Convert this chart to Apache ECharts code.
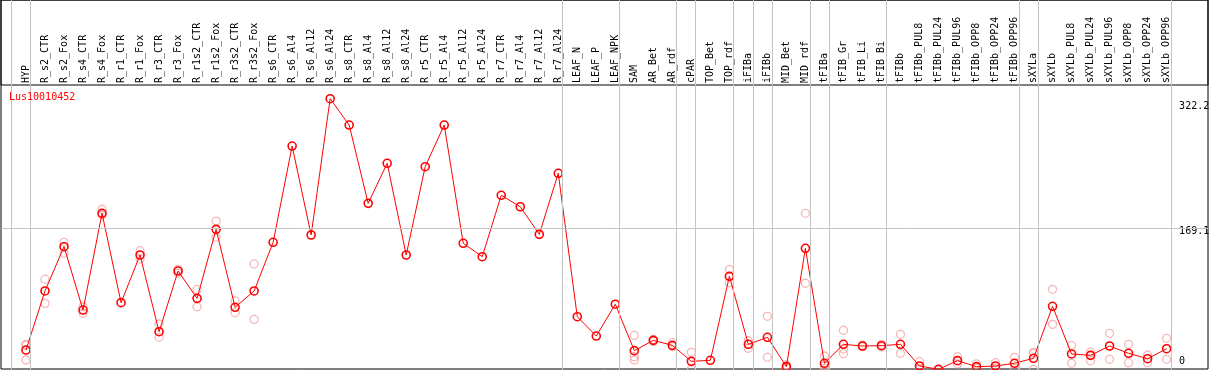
<!DOCTYPE html>
<html>
<head>
<meta charset="utf-8">
<script src="https://cdn.jsdelivr.net/npm/echarts@6/dist/echarts.min.js"></script>
<style>html,body{margin:0;padding:0;background:#fff}#c{width:1209px;height:370px}</style>
</head>
<body>
<div id="c"></div>
<script>
const titleText = 'Lus10010452';
const categories = ['HYP','R_s2_CTR','R_s2_Fox','R_s4_CTR','R_s4_Fox','R_r1_CTR','R_r1_Fox','R_r3_CTR','R_r3_Fox','R_r1s2_CTR','R_r1s2_Fox','R_r3s2_CTR','R_r3s2_Fox','R_s6_CTR','R_s6_Al4','R_s6_Al12','R_s6_Al24','R_s8_CTR','R_s8_Al4','R_s8_Al12','R_s8_Al24','R_r5_CTR','R_r5_Al4','R_r5_Al12','R_r5_Al24','R_r7_CTR','R_r7_Al4','R_r7_Al12','R_r7_Al24','LEAF_N','LEAF_P','LEAF_NPK','SAM','AR_Bet','AR_rdf','cPAR','TOP_Bet','TOP_rdf','iFIBa','iFIBb','MID_Bet','MID_rdf','tFIBa','tFIB_Gr','tFIB_Li','tFIB_Bi','tFIBb','tFIBb_PUL8','tFIBb_PUL24','tFIBb_PUL96','tFIBb_OPP8','tFIBb_OPP24','tFIBb_OPP96','sXYLa','sXYLb','sXYLb_PUL8','sXYLb_PUL24','sXYLb_PUL96','sXYLb_OPP8','sXYLb_OPP24','sXYLb_OPP96'];
const meanValues = [25.4,95.1,147.4,72.6,186.8,81.3,137.6,47.0,118.7,86.4,167.9,75.8,95.1,152.6,266.3,161.2,322.2,291.1,198.6,245.9,137.6,241.9,291.1,151.4,135.6,208.1,194.6,162.0,234.1,64.7,41.9,79.5,24.6,36.8,30.9,12.0,13.2,112.4,32.1,40.4,5.7,145.5,9.7,32.1,30.1,30.5,32.1,6.5,2.6,12.8,5.7,6.5,9.7,15.6,77.0,20.7,19.1,30.1,21.5,15.1,26.9];
const replicates = [
  [31,32,13.6],[109,80.5],[152.6,139.6],[76.5,68.7],[191.6,184.8],[],[142.7,132.9],[56.1,40.4],[120.7,116],[97.1,76.5],
  [177.7,158.5],[83.3,69.5],[127,61.6],[],[],[],[],[],[],[],
  [],[],[],[],[],[],[],[],[],[],
  [],[],[42.7,17.5,13.6],[38,35.5],[34,29.3],[22.7,2.6],[],[120.7,104.9],[36.4,27.4],[65.2,16.8],
  [7.7,3.8],[186.8,104.2],[18.3,3.8,7.0],[48.7,21,26.6],[31,29.3],[32,29],[43.9,21.5],[11.6,3.8],[2.6,2.0],[17.5,8.9],
  [8.9,4.1],[10.4,4.1],[16.8,3.8],[22.7,2.6,21.5],[97.1,55.7],[30.9,9.7],[23,12.8],[45.1,14.4],[32.1,10.4],[19.5,10.4],
  [39.2,14.4]
];
const yTickValues = [0, 169.1, 322.2];
const gridLineValue = 169.1;
const groupEnds = [-1, 0, 28, 31, 34, 35, 37, 38, 39, 41, 42, 45, 52, 53, 60];

// layout
const W = 1209, FIRST_X = 26, STEP = 19.01, N = categories.length;
const HEADER = 85, ZERO_Y = 371.5, PX_PER_UNIT = 0.8467;
const SEP_OFFSET = 0.23;
const catLeft = FIRST_X - STEP / 2;
const catRight = W - (FIRST_X + (N - 0.5) * STEP);
const fullXMin = (1 - FIRST_X) / STEP;
const fullXMax = (W - 1 - FIRST_X) / STEP;
const dataYMax = (ZERO_Y - HEADER) / PX_PER_UNIT;
const fullYMax = ZERO_Y / PX_PER_UNIT;
const mono = 'DejaVu Sans Mono';

const repData = [];
replicates.forEach((arr, i) => arr.forEach(v => repData.push([categories[i], v])));

const hidden = { show: false };
const chart = echarts.init(document.getElementById('c'));
chart.setOption({
  animation: false,
  backgroundColor: '#fff',
  title: { text: titleText, left: 9, top: 92, padding: 0, textStyle: { color: '#ff0000', fontFamily: mono, fontSize: 10, fontWeight: 'normal' } },
  grid: [
    { left: 1, right: 1, top: 0, bottom: 1, show: true, borderColor: '#000', borderWidth: 1, outerBoundsMode: 'none' },
    { left: 1, right: 1, top: 0, height: HEADER, show: true, borderColor: '#000', borderWidth: 1, outerBoundsMode: 'none' },
    { left: 1, right: 1, top: 0, height: ZERO_Y, outerBoundsMode: 'none' },
    { left: catLeft, right: catRight, top: HEADER, height: ZERO_Y - HEADER, outerBoundsMode: 'none' }
  ],
  xAxis: [
    { gridIndex: 0, type: 'value', show: false },
    { gridIndex: 1, type: 'value', show: false },
    { gridIndex: 2, type: 'value', show: false, min: fullXMin, max: fullXMax },
    { gridIndex: 3, type: 'category', position: 'top', data: categories,
      axisLine: hidden, axisTick: hidden, splitLine: hidden,
      axisLabel: { interval: 0, rotate: 90, margin: 2, color: '#000', fontFamily: mono, fontSize: 10 } }
  ],
  yAxis: [
    { gridIndex: 0, type: 'value', show: false },
    { gridIndex: 1, type: 'value', show: false },
    { gridIndex: 2, type: 'value', show: false, min: 0, max: fullYMax },
    { gridIndex: 3, type: 'value', position: 'right', min: 0, max: dataYMax,
      axisLine: hidden, axisTick: hidden, splitLine: hidden,
      axisLabel: { customValues: yTickValues, margin: 3, color: '#000', fontFamily: mono, fontSize: 10,
        formatter: v => { const k = v === 0 ? 'c' : (v > 300 ? 'a' : 'b'); return '{' + k + '|' + v + '}'; },
        rich: {
          a: { fontFamily: mono, fontSize: 10, color: '#000', padding: [16, 0, 0, 0] },
          b: { fontFamily: mono, fontSize: 10, color: '#000', padding: [7, 0, 0, 0] },
          c: { fontFamily: mono, fontSize: 10, color: '#000', padding: [0, 0, 20, 0] }
        } } }
  ],
  series: [
    { type: 'line', xAxisIndex: 2, yAxisIndex: 2, data: [], z: 1, silent: true,
      markLine: { silent: true, symbol: 'none', animation: false, label: { show: false },
        lineStyle: { color: '#c4c4c4', width: 1, type: 'solid' },
        data: groupEnds.map(k => ({ xAxis: k + SEP_OFFSET })).concat([{ yAxis: gridLineValue }]) } },
    { type: 'scatter', xAxisIndex: 3, yAxisIndex: 3, data: repData, z: 3, clip: false,
      symbol: 'circle', symbolSize: 8, itemStyle: { color: 'rgba(0,0,0,0)', borderColor: '#f2a6a6', borderWidth: 1.3 } },
    { type: 'line', xAxisIndex: 3, yAxisIndex: 3, data: meanValues, z: 4, clip: false,
      symbol: 'circle', symbolSize: 8, showAllSymbol: true,
      lineStyle: { color: '#ff0000', width: 1 },
      itemStyle: { color: 'rgba(0,0,0,0)', borderColor: '#ff0000', borderWidth: 1.6 } }
  ]
});
</script>
</body>
</html>
